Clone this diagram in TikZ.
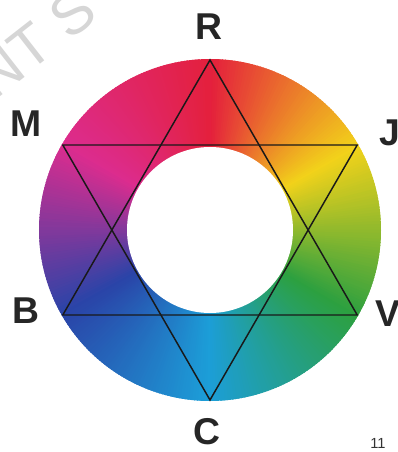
\documentclass[tikz,border=0pt]{standalone}
\usepackage{fontspec}
\newfontfamily\labelfont{Liberation Sans}
% ring colours, clockwise from the top
\definecolor{wc0}{HTML}{E4203C}
\definecolor{wc1}{HTML}{F2D21A}
\definecolor{wc2}{HTML}{2CA040}
\definecolor{wc3}{HTML}{1C9ED8}
\definecolor{wc4}{HTML}{2A44A8}
\definecolor{wc5}{HTML}{DC2C8E}
\definecolor{wc6}{HTML}{E4203C}
\begin{document}
\begin{tikzpicture}[x=0.75pt,y=0.75pt,
    vertexlabel/.style={font=\labelfont\bfseries\fontsize{28}{30}\selectfont, text=black!85, inner sep=0pt},
    starline/.style={line width=1.1pt, black!90, line join=miter}]
    \useasboundingbox (-210,-222) rectangle (187,230);

    % Watermark
    \node[font=\labelfont\fontsize{44}{46}\selectfont, text=black!16, rotate=38, anchor=base, inner sep=0pt] (mark) at (-161.8,171.1) {NT S};

    % Colour ring
    \foreach \t in {0,1,...,359} {
        \pgfmathtruncatemacro\i{floor(\t/60)}
        \pgfmathtruncatemacro\j{\i+1}
        \pgfmathtruncatemacro\p{round(mod(\t,60)/60*100)}
        \colorlet{wedgecol}{wc\j!\p!wc\i}
        \fill[wedgecol] (0,0) -- (90-\t:171) arc[start angle=90-\t, end angle=88.4-\t, radius=171] -- cycle;
    }
    \fill[white] (0,0) circle[radius=83];

    % Star
    \foreach \n/\a in {R/90,J/30,V/-30,C/-90,B/210,M/150}
        \coordinate (\n) at (\a:170);
    \draw[starline] (R) -- (V) -- (B) -- cycle;
    \draw[starline] (M) -- (J) -- (C) -- cycle;

    % Labels
    \node[vertexlabel] (labR) at (-1,203) {R};
    \node[vertexlabel] (labJ) at (180,97) {J};
    \node[vertexlabel] (labV) at (178,-84) {V};
    \node[vertexlabel] (labC) at (-3,-202) {C};
    \node[vertexlabel] (labB) at (-184,-81) {B};
    \node[vertexlabel] (labM) at (-184,106) {M};

    \node[font=\labelfont\fontsize{11}{12}\selectfont, text=black!80, inner sep=0pt] (page) at (168,-213) {11};
\end{tikzpicture}
\end{document}
